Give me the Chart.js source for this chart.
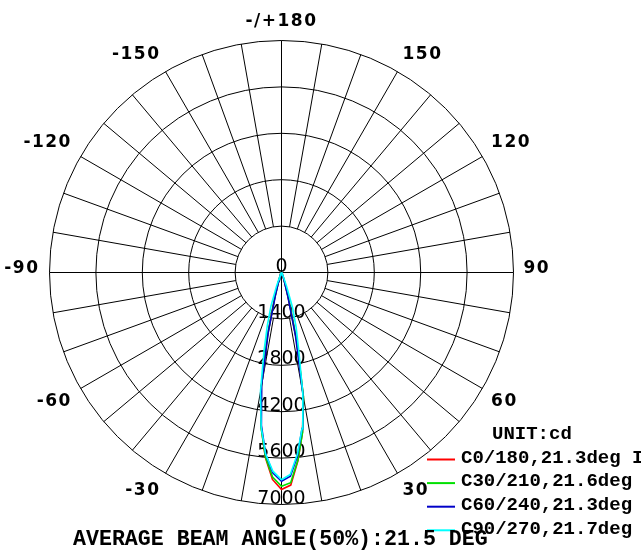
<!DOCTYPE html>
<html>
<head>
<meta charset="utf-8">
<script src="https://cdn.jsdelivr.net/npm/chart.js@4.4.0/dist/chart.umd.min.js"></script>
<style>
html, body { margin: 0; padding: 0; background: #fff; }
</style>
</head>
<body>
<canvas id="chart" width="641" height="557"></canvas>
<script>
// gamma angles (deg), 0 = straight down, + = C0 side (right), - = C180 side (left)
const angles = [-90, -60, -45, -30, -27.5, -25, -22.5, -20, -17.5, -15, -12.5, -10, -7.5, -5, -2.5,
                0, 2.5, 5, 7.5, 10, 12.5, 15, 17.5, 20, 22.5, 25, 27.5, 30, 45, 60, 90];

// intensities in cd
const c0_180  = [0, 5, 10, 30, 45, 65, 100, 160, 330, 780, 1950, 3500, 4700, 5600, 6250,
                 6550, 6420, 5700, 4850, 3800, 2100, 820, 340, 165, 100, 65, 45, 30, 10, 5, 0];
const c30_210 = [0, 5, 10, 30, 45, 65, 100, 170, 350, 800, 2000, 3520, 4720, 5580, 6180,
                 6450, 6350, 5680, 4870, 3820, 2150, 850, 350, 170, 100, 65, 45, 30, 10, 5, 0];
const c60_240 = [0, 5, 10, 30, 45, 60, 95, 150, 300, 700, 1850, 3450, 4650, 5500, 6050,
                 6300, 6150, 5550, 4750, 3700, 1950, 720, 300, 150, 95, 60, 45, 30, 10, 5, 0];
const c90_270 = [0, 5, 12, 40, 60, 90, 170, 430, 1050, 1650, 2450, 3650, 4700, 5500, 6000,
                 6250, 6100, 5500, 4750, 3700, 2400, 1700, 1100, 450, 180, 90, 60, 40, 12, 5, 0];

const seriesNames = ["C0/180,21.3deg I", "C30/210,21.6deg", "C60/240,21.3deg", "C90/270,21.7deg"];
const seriesColors = ["#ff0000", "#00e000", "#0000c8", "#00ffff"];

const ringValues = [1400, 2800, 4200, 5600, 7000];
const angleTicks = [0, 30, 60, 90, 120, 150, 180, -150, -120, -90, -60, -30];
const angleTickLabels = ["0", "30", "60", "90", "120", "150", "-/+180", "-150", "-120", "-90", "-60", "-30"];
const spokeStep = 10;

const unitText = "UNIT:cd";
const beamText = "AVERAGE BEAM ANGLE(50%):21.5 DEG";

// page geometry: pole at (281.5, 272.5), outer ring 232 px
const W = 641, H = 557, CX = 281.5, CY = 272.5, R = 232;
const k = ringValues[ringValues.length - 1] / R;

const rad = a => a * Math.PI / 180;

const datasets = [c0_180, c30_210, c60_240, c90_270].map((vals, i) => ({
  label: seriesNames[i],
  data: angles.map((a, j) => ({ x: vals[j] * Math.sin(rad(a)), y: -vals[j] * Math.cos(rad(a)) })),
  borderColor: seriesColors[i],
  borderWidth: 1.6,
  showLine: true,
  pointRadius: 0,
  fill: false,
  order: 4 - i
}));

const polarGrid = {
  id: "polarGrid",
  beforeDatasetsDraw(chart) {
    const { ctx, scales: { x, y } } = chart;
    const cx = x.getPixelForValue(0), cy = y.getPixelForValue(0);
    const pt = (r, a) => [x.getPixelForValue(r * Math.sin(rad(a))), y.getPixelForValue(-r * Math.cos(rad(a)))];
    const rmax = ringValues[ringValues.length - 1];

    ctx.save();
    ctx.strokeStyle = "#000";
    ctx.lineWidth = 1;
    ringValues.forEach(v => {
      ctx.beginPath();
      ctx.arc(cx, cy, x.getPixelForValue(v) - cx, 0, Math.PI * 2);
      ctx.stroke();
    });
    for (let a = 0; a < 360; a += spokeStep) {
      const r0 = a % 90 === 0 ? 0 : ringValues[0];
      const p0 = pt(r0, a), p1 = pt(rmax, a);
      ctx.beginPath();
      ctx.moveTo(p0[0], p0[1]);
      ctx.lineTo(p1[0], p1[1]);
      ctx.stroke();
    }

    // angle labels
    const outer = x.getPixelForValue(rmax) - cx;
    ctx.fillStyle = "#000";
    ctx.font = "bold 17px 'DejaVu Sans'";
    ctx.letterSpacing = "1.5px";
    angleTicks.forEach((a, i) => {
      const s = Math.sin(rad(a)), c = Math.cos(rad(a));
      const d = outer + 10;
      const lx = cx + d * s, ly = cy + d * c;
      ctx.textAlign = Math.abs(s) < 0.01 ? "center" : (s > 0 ? "left" : "right");
      ctx.textBaseline = Math.abs(c) < 0.01 ? "alphabetic" : (c > 0 ? "top" : "bottom");
      ctx.fillText(angleTickLabels[i], lx, ly);
    });

    // radial labels down the 0 axis
    ctx.letterSpacing = "0px";
    ctx.font = "19px 'DejaVu Sans'";
    ctx.textAlign = "center";
    ctx.textBaseline = "alphabetic";
    [0].concat(ringValues).forEach(v => {
      ctx.fillText(String(v), cx, y.getPixelForValue(-v) - 1);
    });
    ctx.restore();
  },
  afterDraw(chart) {
    const { ctx } = chart;
    ctx.save();
    ctx.fillStyle = "#000";
    ctx.font = "bold 19px 'Liberation Mono'";
    ctx.textBaseline = "middle";
    ctx.textAlign = "left";
    ctx.fillText(unitText, 492, 434);
    seriesNames.forEach((name, i) => {
      const yy = 458 + i * 23.6;
      ctx.strokeStyle = seriesColors[i];
      ctx.lineWidth = 2;
      ctx.beginPath();
      ctx.moveTo(427, yy + 1.5);
      ctx.lineTo(455, yy + 1.5);
      ctx.stroke();
      ctx.fillText(name, 461, yy);
    });
    ctx.font = "bold 21.6px 'Liberation Mono'";
    ctx.fillText(beamText, 73, 540);
    ctx.restore();
  }
};

new Chart(document.getElementById("chart"), {
  type: "scatter",
  data: { datasets: datasets },
  options: {
    responsive: false,
    animation: false,
    layout: { padding: 0 },
    plugins: { legend: { display: false }, tooltip: { enabled: false } },
    scales: {
      x: { type: "linear", display: false, min: -CX * k, max: (W - CX) * k },
      y: { type: "linear", display: false, min: -(H - CY) * k, max: CY * k }
    }
  },
  plugins: [polarGrid]
});
</script>
</body>
</html>
